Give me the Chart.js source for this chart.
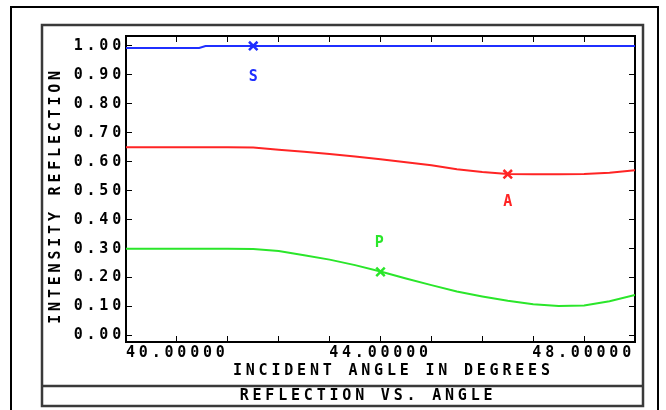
<!DOCTYPE html>
<html>
<head>
<meta charset="utf-8">
<script src="https://cdn.jsdelivr.net/npm/chart.js@4/dist/chart.umd.min.js"></script>
<style>
html,body{margin:0;padding:0;background:#fff;}
canvas{display:block;}
</style>
</head>
<body>
<canvas id="c" width="666" height="410"></canvas>
<script>
// ---- data ----
const angles  = [40, 40.4, 40.8, 41.2, 41.6, 42, 42.4, 42.8, 43.2, 43.6, 44, 44.4, 44.8, 45.2, 45.6, 46, 46.4, 46.8, 47.2, 47.6, 48];
const aValues = [0.650, 0.650, 0.650, 0.650, 0.650, 0.649, 0.642, 0.635, 0.627, 0.618, 0.609, 0.598, 0.588, 0.574, 0.565, 0.558, 0.557, 0.557, 0.558, 0.562, 0.571];
const pValues = [0.300, 0.300, 0.300, 0.300, 0.300, 0.299, 0.292, 0.277, 0.262, 0.243, 0.221, 0.197, 0.174, 0.152, 0.135, 0.120, 0.108, 0.102, 0.104, 0.118, 0.140];
const sAngles = [40, 41.15, 41.25, 48];
const sValues = [0.993, 0.993, 1.0, 1.0];

const seriesNames  = ['S', 'A', 'P'];
const seriesColors = ['#1f2fff', '#ff2424', '#2ae62a'];
const markerAngles = [42.0, 46.0, 44.0];
const markerValues = [1.0, 0.557, 0.220];
const labelAngles  = [42.0, 46.0, 43.98];
const labelValues  = [0.894, 0.459, 0.318];

const xTickValues = [40, 40.8, 41.6, 42.4, 43.2, 44, 44.8, 45.6, 46.4, 47.2, 48];
const xTickLabels = ['40.00000', '', '', '', '', '44.00000', '', '', '', '', '48.00000'];
const yTickValues = [0, 0.1, 0.2, 0.3, 0.4, 0.5, 0.6, 0.7, 0.8, 0.9, 1.0];
const yTickLabels = ['0.00', '0.10', '0.20', '0.30', '0.40', '0.50', '0.60', '0.70', '0.80', '0.90', '1.00'];

const xTitle = 'INCIDENT ANGLE IN DEGREES';
const yTitle = 'INTENSITY REFLECTION';
const chartTitle = 'REFLECTION VS. ANGLE';

// ---- styling ----
const LS = '3.8px';
const FONT = {family: "'DejaVu Sans Mono', monospace", size: 15, weight: 'bold'};
const gridOpts = {drawOnChartArea: false, drawTicks: true, tickLength: -6, color: '#000', lineWidth: 1};
const borderOpts = {display: true, color: '#000', width: 2};

const toPts = (xs, ys) => xs.map((x, i) => ({x: x, y: ys[i]}));

const decor = {
  id: 'decor',
  beforeUpdate(c) { c.ctx.letterSpacing = LS; },
  beforeLayout(c) { c.ctx.letterSpacing = LS; },
  beforeDraw(c) { c.ctx.letterSpacing = LS; },
  afterDraw(c) {
    const ctx = c.ctx, xs = c.scales.x, ys = c.scales.y;
    ctx.save();
    ctx.letterSpacing = LS;
    ctx.font = 'bold 15px "DejaVu Sans Mono", monospace';
    ctx.textAlign = 'center';
    ctx.textBaseline = 'middle';
    seriesNames.forEach((n, i) => {
      ctx.fillStyle = seriesColors[i];
      ctx.fillText(n, xs.getPixelForValue(labelAngles[i]) + 2, ys.getPixelForValue(labelValues[i]));
    });
    // frames
    ctx.strokeStyle = '#000';
    ctx.lineWidth = 2;
    ctx.strokeRect(11, 7, 647, 430);
    ctx.strokeStyle = '#3a3a3a';
    ctx.lineWidth = 2.5;
    ctx.strokeRect(42, 25, 601, 381);
    ctx.beginPath();
    ctx.moveTo(42, 386);
    ctx.lineTo(643, 386);
    ctx.stroke();
    ctx.fillStyle = '#000';
    ctx.fillText(chartTitle, 368, 396);
    ctx.restore();
  }
};

new Chart(document.getElementById('c'), {
  type: 'line',
  data: {
    datasets: [
      {label: seriesNames[0], data: toPts(sAngles, sValues), borderColor: seriesColors[0], borderWidth: 2, pointRadius: 0, tension: 0},
      {label: seriesNames[1], data: toPts(angles, aValues), borderColor: seriesColors[1], borderWidth: 2, pointRadius: 0, tension: 0},
      {label: seriesNames[2], data: toPts(angles, pValues), borderColor: seriesColors[2], borderWidth: 2, pointRadius: 0, tension: 0},
      {label: 'markers', data: toPts(markerAngles, markerValues), showLine: false,
       pointStyle: 'crossRot', pointRadius: 6, pointBorderWidth: 2.5,
       pointBorderColor: seriesColors, borderColor: seriesColors}
    ]
  },
  options: {
    responsive: false,
    animation: false,
    events: [],
    layout: {padding: {left: 42, top: 36, right: 31, bottom: 24}},
    plugins: {legend: {display: false}, tooltip: {enabled: false}, title: {display: false}},
    scales: {
      x: {
        type: 'linear', position: 'bottom', min: 40, max: 48,
        afterBuildTicks: s => { s.ticks = xTickValues.map(v => ({value: v})); },
        afterFit: s => { s.height = 44; },
        ticks: {autoSkip: false, maxRotation: 0, minRotation: 0, align: 'inner', padding: 8, color: '#000', font: FONT,
                callback: (v, i) => xTickLabels[i]},
        grid: gridOpts, border: borderOpts,
        title: {display: true, text: '  ' + xTitle, color: '#000', font: FONT, padding: {top: 0, bottom: 6}}
      },
      x2: {
        type: 'linear', position: 'top', min: 40, max: 48,
        afterBuildTicks: s => { s.ticks = xTickValues.map(v => ({value: v})); },
        afterFit: s => { s.height = 0; },
        ticks: {display: false},
        grid: gridOpts, border: borderOpts
      },
      y: {
        type: 'linear', position: 'left', min: -0.0225, max: 1.0345,
        afterBuildTicks: s => { s.ticks = yTickValues.map(v => ({value: v})); },
        afterFit: s => { s.width = 84; },
        ticks: {autoSkip: false, padding: 7, color: '#000', font: FONT, callback: (v, i) => yTickLabels[i]},
        grid: gridOpts, border: borderOpts,
        title: {display: true, text: yTitle + ' ', color: '#000', font: FONT, padding: {top: 5, bottom: 0}}
      },
      y2: {
        type: 'linear', position: 'right', min: -0.0225, max: 1.0345,
        afterBuildTicks: s => { s.ticks = yTickValues.map(v => ({value: v})); },
        afterFit: s => { s.width = 0; },
        ticks: {display: false},
        grid: gridOpts, border: borderOpts
      }
    }
  },
  plugins: [decor]
});
</script>
</body>
</html>
